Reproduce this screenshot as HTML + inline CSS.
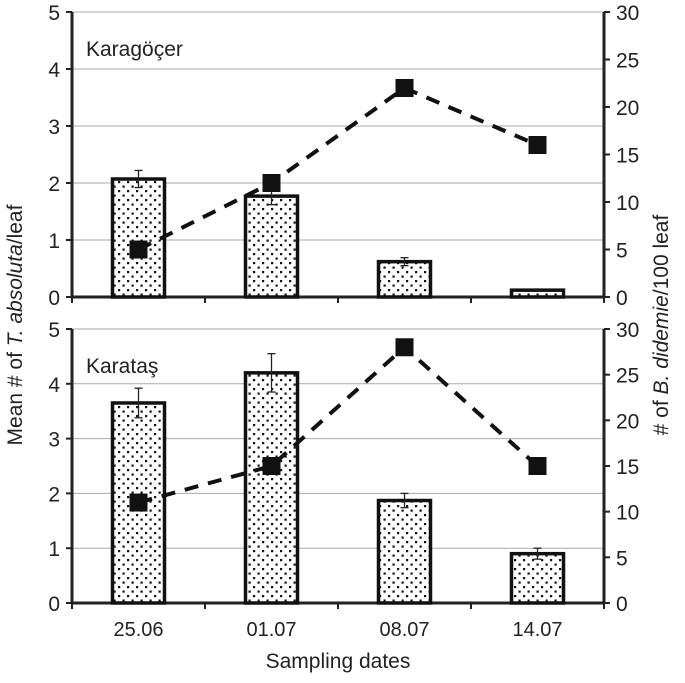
<!DOCTYPE html>
<html><head><meta charset="utf-8"><style>
body{margin:0;background:#fff}
svg text{font-family:"Liberation Sans",sans-serif;fill:#222}
</style></head><body>
<svg id="chart" width="685" height="678" xmlns="http://www.w3.org/2000/svg">
<defs><pattern id="dots" width="9" height="9" patternUnits="userSpaceOnUse">
<rect width="9" height="9" fill="#fff"/><rect x="1" y="1" width="2.2" height="2.2" fill="#111"/><rect x="5.5" y="5.5" width="2.2" height="2.2" fill="#111"/></pattern></defs>
<g id="g"></g>
<text transform="translate(22,325) rotate(-90)" text-anchor="middle" font-size="21">Mean # of <tspan font-style="italic">T. absoluta</tspan>/leaf</text>
<text transform="translate(668,325) rotate(-90)" text-anchor="middle" font-size="21"># of <tspan font-style="italic">B. didemie</tspan>/100 leaf</text>
<text x="338" y="668" text-anchor="middle" font-size="21">Sampling dates</text>
</svg>
<script>
const categories=["25.06","01.07","08.07","14.07"];
const topBars=[2.07,1.77,0.62,0.12];
const topErr=[0.15,0.15,0.07,0.02];
const topLine=[5,12,22,16];
const botBars=[3.65,4.2,1.87,0.9];
const botErr=[0.27,0.35,0.13,0.1];
const botLine=[11,15,28,15];
const leftTicks=[0,1,2,3,4,5];
const rightTicks=[0,5,10,15,20,25,30];
const NS="http://www.w3.org/2000/svg";
const g=document.getElementById('g');
function el(t,a){const e=document.createElementNS(NS,t);for(const k in a)e.setAttribute(k,a[k]);g.appendChild(e);return e;}
const X0=72,X1=604,band=(X1-X0)/categories.length;
const xc=i=>X0+band*(i+0.5);
function panel(top,bottom,bars,err,line,label,name,showX){
  const yl=v=>bottom-(bottom-top)*v/5, yr=v=>bottom-(bottom-top)*v/30;
  leftTicks.forEach(t=>{
    if(t>0){const l=el('line',{x1:X0,x2:X1,y1:yl(t),y2:yl(t),stroke:'#aaa','stroke-width':1});
    }
    el('line',{x1:X0-6,x2:X0,y1:yl(t),y2:yl(t),stroke:'#222','stroke-width':2});
    const tx=el('text',{x:X0-12,y:yl(t)+8,'text-anchor':'end','font-size':21});tx.textContent=t;
    
  });
  rightTicks.forEach(t=>{
    el('line',{x1:X1,x2:X1+6,y1:yr(t),y2:yr(t),stroke:'#222','stroke-width':2});
    const tx=el('text',{x:X1+12,y:yr(t)+8,'font-size':21});tx.textContent=t;
    
  });
  el('line',{x1:X0,x2:X0,y1:top,y2:bottom,stroke:'#222','stroke-width':3});
  el('line',{x1:X1,x2:X1,y1:top,y2:bottom,stroke:'#222','stroke-width':3});
  el('line',{x1:X0,x2:X1,y1:bottom,y2:bottom,stroke:'#222','stroke-width':3});
  for(let i=0;i<=categories.length;i++)el('line',{x1:X0+band*i,x2:X0+band*i,y1:bottom,y2:bottom+6,stroke:'#222','stroke-width':2});
  bars.forEach((v,i)=>{
    const b=el('rect',{x:xc(i)-26,y:yl(v),width:52,height:bottom-yl(v),fill:'url(#dots)',stroke:'#111','stroke-width':3.5});
    
    const e1=yl(v+err[i]),e2=yl(v-err[i]);
    el('line',{x1:xc(i),x2:xc(i),y1:e1,y2:e2,stroke:'#222','stroke-width':1.3});
    el('line',{x1:xc(i)-4,x2:xc(i)+4,y1:e1,y2:e1,stroke:'#222','stroke-width':1.3});
    el('line',{x1:xc(i)-4,x2:xc(i)+4,y1:e2,y2:e2,stroke:'#222','stroke-width':1.3});
  });
  const p=el('polyline',{points:line.map((v,i)=>xc(i)+','+yr(v)).join(' '),fill:'none',stroke:'#111','stroke-width':4,'stroke-dasharray':'14 10'});
  
  line.forEach((v,i)=>{const m=el('rect',{x:xc(i)-9,y:yr(v)-9,width:18,height:18,fill:'#111'});
    });
  const lb=el('text',{x:86,y:top+44,'font-size':21});lb.textContent=label;
  
  if(showX)categories.forEach((c,i)=>{const t=el('text',{x:xc(i),y:bottom+33,'text-anchor':'middle','font-size':20});t.textContent=c;
    });
}
panel(12,297,topBars,topErr,topLine,'Karagöçer','karagocer',false);
panel(329,603,botBars,botErr,botLine,'Karataş','karatas',true);
</script>
</body></html>
